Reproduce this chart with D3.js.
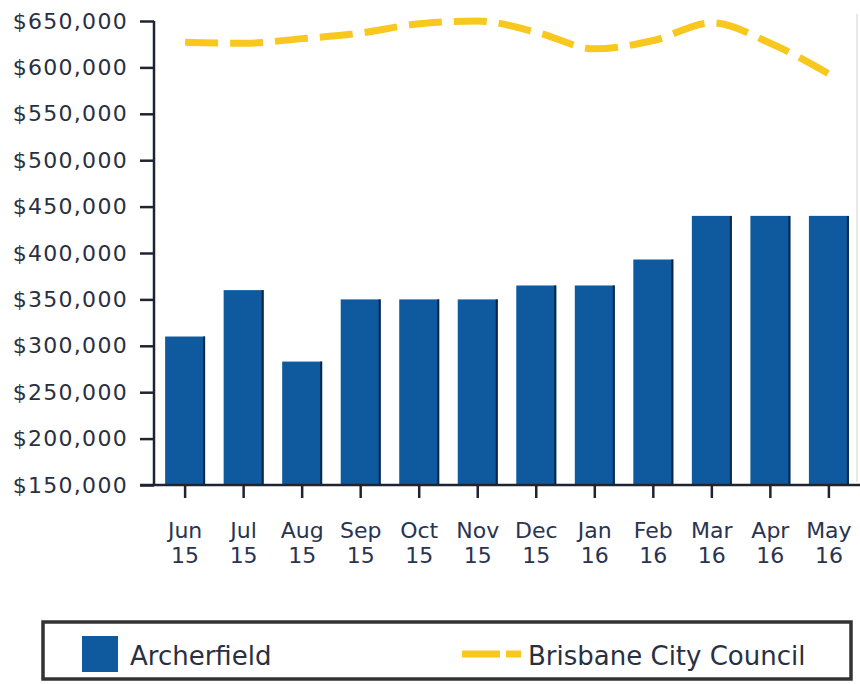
<!DOCTYPE html>
<html><head><meta charset="utf-8">
<script src="https://cdn.jsdelivr.net/npm/d3@7"></script>
<style>body{margin:0;background:#fff}svg{display:block}</style>
</head><body>
<svg id="c" width="860" height="684"></svg>
<script>
const months = ["Jun","Jul","Aug","Sep","Oct","Nov","Dec","Jan","Feb","Mar","Apr","May"];
const years  = ["15","15","15","15","15","15","15","16","16","16","16","16"];
const archerfield = [310000,360000,283000,350000,350000,350000,365000,365000,393000,440000,440000,440000];
const brisbane = [627000,626000,631000,637000,647000,650000,638000,620000,629000,648000,626000,593000];
const yTicks = [150000,200000,250000,300000,350000,400000,450000,500000,550000,600000,650000];
const seriesNames = ["Archerfield","Brisbane City Council"];

const svg = d3.select("#c");
const font = "DejaVu Sans";
const keys = months.map((m,i)=>m+" "+years[i]);
const x = d3.scaleBand().domain(keys).range([154,860]).paddingInner(0.317).paddingOuter(0.19);
const y = d3.scaleLinear().domain([150000,650000]).range([485,21]);
const blue = "#0f5a9f", yellow = "#f8c81e", ink = "#1e2430";

svg.append("line").attr("x1",857).attr("x2",857).attr("y1",14).attr("y2",482)
  .attr("stroke","#d0d0d0").attr("stroke-width",1);

// bars
const g = svg.append("g");
g.selectAll("rect.bar").data(archerfield).join("rect").attr("class","bar")
  .attr("x",(d,i)=>x(keys[i])).attr("y",d=>y(d))
  .attr("width",x.bandwidth()).attr("height",d=>y(150000)-y(d)).attr("fill",blue);
g.selectAll("line.edge").data(archerfield).join("line").attr("class","edge")
  .attr("x1",(d,i)=>x(keys[i])+x.bandwidth()-1).attr("x2",(d,i)=>x(keys[i])+x.bandwidth()-1)
  .attr("y1",d=>y(d)).attr("y2",y(150000)).attr("stroke","#0b2747").attr("stroke-width",2);

// line
const line = d3.line().x((d,i)=>x(keys[i])+x.bandwidth()/2).y(d=>y(d)).curve(d3.curveMonotoneX);
svg.append("path").datum(brisbane).attr("d",line).attr("fill","none")
  .attr("stroke",yellow).attr("stroke-width",7).attr("stroke-dasharray","33,12");

// y axis
const ya = svg.append("g").attr("transform","translate(154,0)")
  .call(d3.axisLeft(y).tickValues(yTicks).tickSize(14).tickPadding(12)
    .tickFormat(d=>"$"+d3.format(",")(d)));
ya.select(".domain").attr("stroke",ink).attr("stroke-width",2.5).attr("d","M0,21V485");
ya.selectAll(".tick line").attr("stroke",ink).attr("stroke-width",2.5);
ya.selectAll(".tick text").attr("font-family",font).attr("font-size",22).attr("fill","#2a3040")
  .attr("letter-spacing",1.3);

// x axis
const xa = svg.append("g").attr("transform","translate(0,485)")
  .call(d3.axisBottom(x).tickSize(13).tickFormat(""));
xa.select(".domain").attr("stroke",ink).attr("stroke-width",2.5).attr("d","M140,0H860");
xa.selectAll(".tick line").attr("stroke",ink).attr("stroke-width",2.5);
const lbl = svg.append("g").attr("font-family",font).attr("font-size",22).attr("fill","#2a3350")
  .attr("text-anchor","middle");
keys.forEach((k,i)=>{
  const cx = x(k)+x.bandwidth()/2;
  lbl.append("text").attr("x",cx).attr("y",538).text(months[i]);
  lbl.append("text").attr("x",cx).attr("y",563).text(years[i]);
});

// legend
const lg = svg.append("g");
lg.append("rect").attr("x",43).attr("y",622).attr("width",808).attr("height",57)
  .attr("fill","#fff").attr("stroke","#333").attr("stroke-width",3.5);
lg.append("rect").attr("x",82).attr("y",636).attr("width",36).attr("height",36).attr("fill",blue);
lg.append("text").attr("x",130).attr("y",665).attr("font-family",font).attr("font-size",26)
  .attr("fill","#2a3040").text(seriesNames[0]);
lg.append("line").attr("x1",462).attr("x2",521).attr("y1",654).attr("y2",654)
  .attr("stroke",yellow).attr("stroke-width",7).attr("stroke-dasharray","38,6");
lg.append("text").attr("x",528).attr("y",665).attr("font-family",font).attr("font-size",26)
  .attr("fill","#2a3040").text(seriesNames[1]);
</script>
</body></html>
